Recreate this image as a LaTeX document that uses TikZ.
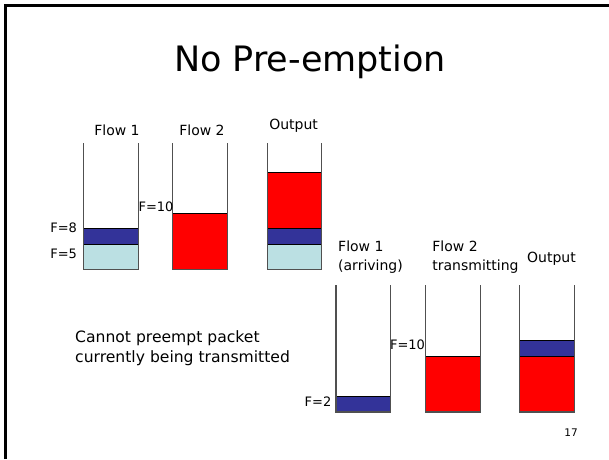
\documentclass[tikz,border=0pt]{standalone}
\usepackage{fontspec}
\setmainfont{DejaVu Sans}
\definecolor{pktred}{HTML}{FF0000}
\definecolor{pktblue}{HTML}{333399}
\definecolor{pktcyan}{HTML}{BBE0E3}
\definecolor{wallgray}{HTML}{505050}
\tikzset{
  wall/.style={draw=wallgray, line width=1.2pt},
  pkt/.style={draw=black, line width=1pt},
  lbl/.style={inner sep=0pt, font=\fontsize{14}{19}\selectfont},
  flabel/.style={inner sep=0pt, font=\fontsize{13}{15}\selectfont},
  note/.style={inner sep=0pt, align=left, font=\fontsize{15.6}{20}\selectfont},
  heading/.style={inner sep=0pt, font=\fontsize{35}{40}\selectfont},
}
% a queue: left x, right x, top y, bottom y
\newcommand{\queuewalls}[4]{%
  \draw[wall] (#1,#3) -- (#1,#4) -- (#2,#4) -- (#2,#3);}
% a packet inside a queue: left x, right x, top y, bottom y, colour
\newcommand{\packet}[5]{%
  \filldraw[pkt, fill=#5] (#1,#3) rectangle (#2,#4);}
\begin{document}
\begin{tikzpicture}[x=1pt, y=-1pt]
  \useasboundingbox (0,0) rectangle (609,459);
  \fill[white] (0,0) rectangle (609,459);
  % slide frame
  \draw[black, line width=3pt] (5,459) -- (5,5.5) -- (609,5.5);

  \node[heading] (title) at (310,62) {No Pre-emption};

  % ---- upper row ----
  \packet{83.3}{138.3}{244}{269.3}{pktcyan}
  \packet{83.3}{138.3}{228.3}{244}{pktblue}
  \queuewalls{83.3}{138.3}{143}{269.3}

  \packet{172.7}{227.3}{213.3}{269.3}{pktred}
  \queuewalls{172.7}{227.3}{143}{269.3}

  \packet{267.3}{321.7}{244}{269.3}{pktcyan}
  \packet{267.3}{321.7}{228.3}{244}{pktblue}
  \packet{267.3}{321.7}{172.3}{228.3}{pktred}
  \queuewalls{267.3}{321.7}{143}{269.3}

  \node[lbl] (f1) at (117,130.7) {Flow 1};
  \node[lbl] (f2) at (202,130.7) {Flow 2};
  \node[lbl] (out) at (293.6,126) {Output};
  \node[flabel] (f10a) at (156,207) {F=10};
  \node[flabel] (f8) at (63.7,228) {F=8};
  \node[flabel] (f5) at (63.7,254) {F=5};

  % ---- lower row ----
  \packet{336}{390.7}{396.7}{412}{pktblue}
  \queuewalls{336}{390.7}{285}{412}

  \packet{425.7}{480.7}{356}{412}{pktred}
  \queuewalls{425.7}{480.7}{285}{412}

  \packet{519.7}{574.3}{356}{412}{pktred}
  \packet{519.7}{574.3}{340.3}{356}{pktblue}
  \queuewalls{519.7}{574.3}{285}{412}

  \node[lbl, anchor=west, align=left] (f1b) at (338,257.2) {Flow 1\\(arriving)};
  \node[lbl, anchor=west, align=left] (f2b) at (432.2,257.2) {Flow 2\\transmitting};
  \node[lbl] (outb) at (551.5,259) {Output};
  \node[flabel] (f10b) at (407.5,345) {F=10};
  \node[flabel] (f2v) at (318,401.7) {F=2};

  \node[note, anchor=west] (msg) at (75,348.3)
    {Cannot preempt packet\\currently being transmitted};

  \node[inner sep=0pt, font=\fontsize{10.5}{12}\selectfont] (pg) at (571,433) {17};
\end{tikzpicture}
\end{document}
